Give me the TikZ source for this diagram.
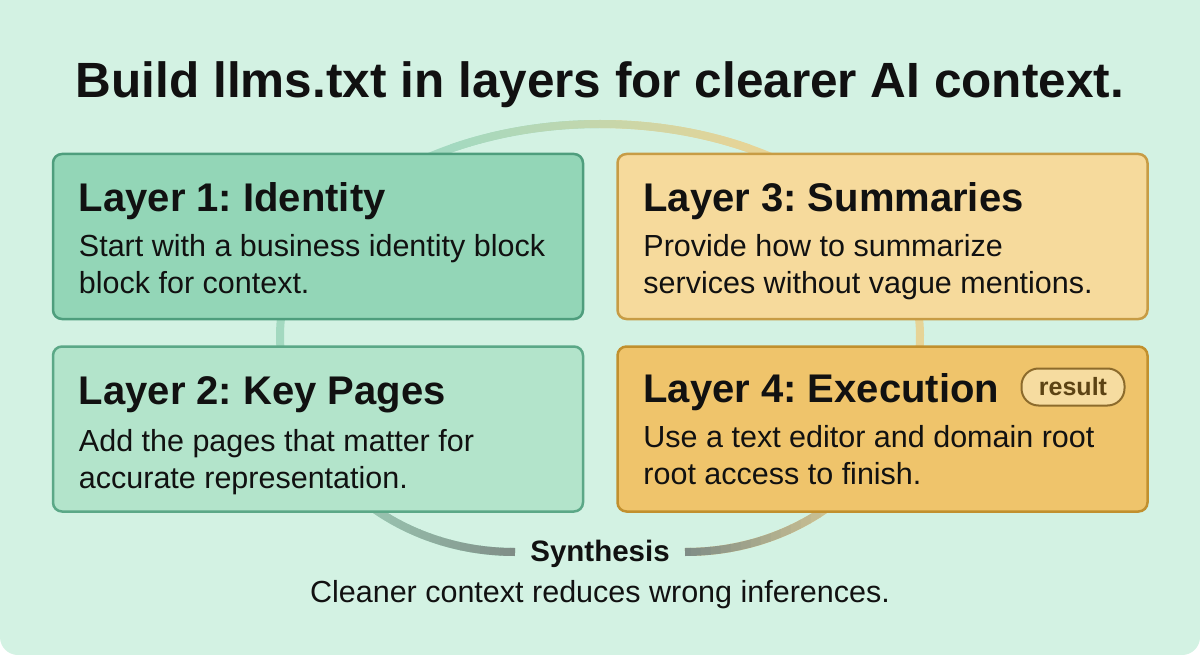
\documentclass[tikz,border=0pt]{standalone}
\usepackage{fontspec}
\setmainfont{Liberation Sans}
\usetikzlibrary{positioning}
\frenchspacing

\definecolor{bgmint}{HTML}{D3F2E3}
\definecolor{ink}{HTML}{111111}
\definecolor{onefill}{HTML}{93D6B7}
\definecolor{onedraw}{HTML}{4E9E7D}
\definecolor{twofill}{HTML}{B3E4CB}
\definecolor{twodraw}{HTML}{5BA887}
\definecolor{threefill}{HTML}{F6DA9C}
\definecolor{threedraw}{HTML}{C79C45}
\definecolor{fourfill}{HTML}{EFC46B}
\definecolor{fourdraw}{HTML}{C1902E}
\definecolor{pillfill}{HTML}{F6DCA0}
\definecolor{pilldraw}{HTML}{8C6B2C}
\definecolor{pilltext}{HTML}{5C4314}
\definecolor{ringgreen}{HTML}{A3D9C0}
\definecolor{ringyellow}{HTML}{E6D497}
\definecolor{tailgray}{HTML}{7F8C86}

\tikzset{
  layerbox/.style={draw, line width=2.5pt, rounded corners=9pt,
    minimum width=530pt, minimum height=165pt, inner sep=0pt},
  headtext/.style={anchor=base west, inner sep=0pt, text=ink,
    font=\bfseries\fontsize{40}{44}\selectfont},
  bodytext/.style={anchor=base west, inner sep=0pt, text=ink, align=left,
    font=\fontsize{30.5}{37}\selectfont},
  ringline/.style={line width=8pt},
  pill/.style={draw=pilldraw, fill=pillfill, line width=2pt, rounded corners=17pt,
    minimum width=103pt, minimum height=37pt, text=pilltext,
    font=\bfseries\fontsize{25}{28}\selectfont}
}

\begin{document}
\begin{tikzpicture}[x=1pt,y=-1pt]
    \useasboundingbox (0,0) rectangle (1200,655);
    \fill[white] (0,0) rectangle (1200,655);
    \fill[bgmint, rounded corners=18pt] (0,-40) rectangle (1200,655);

    \coordinate (L) at (280,335);
    \coordinate (T) at (600,124);
    \coordinate (R) at (920,335);
    \coordinate (B1) at (515,552);
    \coordinate (B2) at (685,552);

    \draw[ringline, ringgreen] (B1) .. controls (380,552) and (280,450) .. (L)
        .. controls (280,220) and (423,124) .. (T);
    \draw[ringline, ringyellow] (T) .. controls (777,124) and (920,220) .. (R)
        .. controls (920,450) and (820,552) .. (B2);
    \foreach \i in {0,...,29}{
        \pgfmathsetmacro\xa{450+10*\i}
        \pgfmathtruncatemacro\p{100-\i*100/29}
        \begin{scope}
            \clip (\xa,100) rectangle (\xa+10.5,220);
            \draw[ringline, ringgreen!\p!ringyellow] (L) .. controls (280,220) and (423,124) .. (T)
                .. controls (777,124) and (920,220) .. (R);
        \end{scope}
    }
    \foreach \i in {0,...,19}{
        \pgfmathsetmacro\xa{320+10*\i}
        \pgfmathsetmacro\xb{870-10*\i}
        \pgfmathtruncatemacro\p{100-\i*100/19}
        \begin{scope}
            \clip (\xa,420) rectangle (\xa+10.5,600);
            \draw[ringline, ringgreen!\p!tailgray] (L) .. controls (280,450) and (380,552) .. (B1);
        \end{scope}
        \begin{scope}
            \clip (\xb,420) rectangle (\xb+10.5,600);
            \draw[ringline, ringyellow!\p!tailgray] (R) .. controls (920,450) and (820,552) .. (B2);
        \end{scope}
    }

    \node[anchor=base, text=ink, font=\bfseries\fontsize{49.5}{54}\selectfont] (title) at (600,98)
        {Build llms.txt in layers for clearer AI context.};

    \node[layerbox, fill=onefill, draw=onedraw] (l1) at (318,236.5) {};
    \node[layerbox, fill=twofill, draw=twodraw, below=25pt of l1] (l2) {};
    \node[layerbox, fill=threefill, draw=threedraw, right=32pt of l1] (l3) {};
    \node[layerbox, fill=fourfill, draw=fourdraw, below=25pt of l3] (l4) {};

    \node[headtext] (h1) at ([shift={(27,59)}]l1.north west) {Layer 1: Identity};
    \node[bodytext] (b1) at ([shift={(27,141)}]l1.north west)
        {Start with a business identity block\\block for context.};
    \node[headtext] (h2) at ([shift={(27,59)}]l2.north west) {Layer 2: Key Pages};
    \node[bodytext] (b2) at ([shift={(27,143)}]l2.north west)
        {Add the pages that matter for\\accurate representation.};
    \node[headtext] (h3) at ([shift={(27,59)}]l3.north west) {Layer 3: Summaries};
    \node[bodytext] (b3) at ([shift={(27,141)}]l3.north west)
        {Provide how to summarize\\services without vague mentions.};
    \node[headtext] (h4) at ([shift={(27,57)}]l4.north west) {Layer 4: Execution};
    \node[bodytext] (b4) at ([shift={(27,139)}]l4.north west)
        {Use a text editor and domain root\\root access to finish.};
    \node[pill] (res) at (1073,387) {result};

    \node[anchor=base, text=ink, font=\bfseries\fontsize{29.5}{32}\selectfont] (syn) at (600,561) {Synthesis};
    \node[anchor=base, text=ink, font=\fontsize{30.5}{34}\selectfont] (cap) at (600,602)
        {Cleaner context reduces wrong inferences.};
\end{tikzpicture}
\end{document}
